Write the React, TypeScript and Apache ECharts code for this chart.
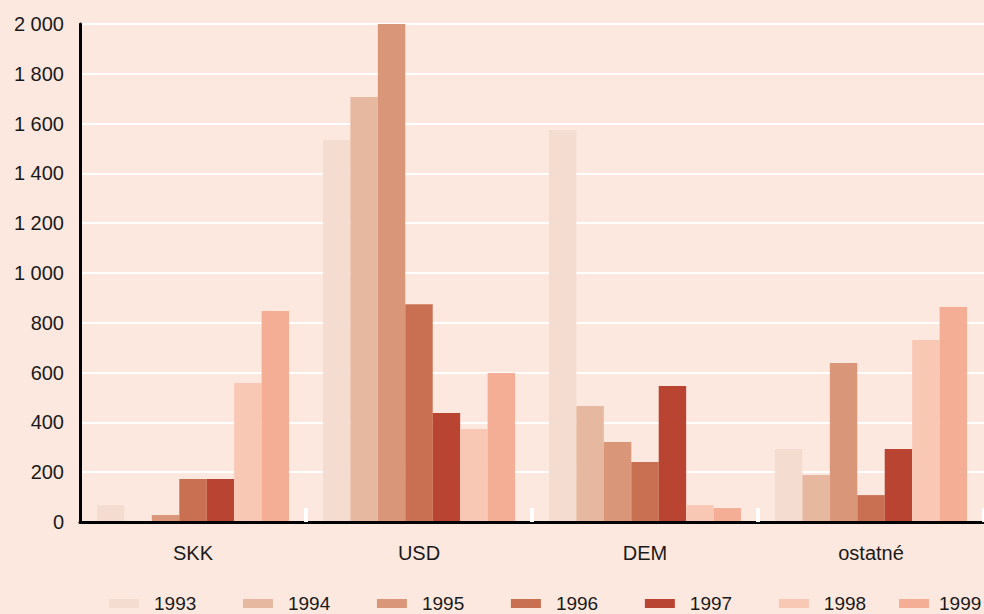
import React, { useEffect, useRef } from "react";
import * as echarts from "echarts";

const categories = ["SKK", "USD", "DEM", "ostatné"];
const years = ["1993", "1994", "1995", "1996", "1997", "1998", "1999"];
const v1993 = [68, 1534, 1574, 293];
const v1994 = [0, 1707, 466, 189];
const v1995 = [28, 2000, 321, 639];
const v1996 = [173, 875, 241, 108];
const v1997 = [173, 438, 546, 293];
const v1998 = [558, 373, 68, 731];
const v1999 = [847, 598, 56, 863];
const seriesValues = [v1993, v1994, v1995, v1996, v1997, v1998, v1999];
const colors = ["#f4dcd0", "#e6b8a0", "#d99679", "#c97052", "#b94432", "#f8c8b5", "#f4ae96"];
const yTicks = [0, 200, 400, 600, 800, 1000, 1200, 1400, 1600, 1800, 2000];

const FONT = "'Liberation Sans', Arial, Helvetica, sans-serif";

function fmt(v: number): string {
  if (v >= 1000) {
    return Math.floor(v / 1000) + " " + String(v % 1000).padStart(3, "0");
  }
  return String(v);
}

export default function App() {
  const ref = useRef<HTMLDivElement>(null);
  useEffect(() => {
    if (!ref.current) return;
    const chart = echarts.init(ref.current, undefined, { renderer: "svg" });
    chart.setOption({
      animation: false,
      backgroundColor: "#fde8df",
      color: colors,
      grid: { left: 80, right: -7, top: 24, bottom: 92, containLabel: false },
      legend: [
        {
          data: years.slice(0, 6),
          left: 109,
          top: 594,
          padding: 0,
          itemWidth: 30,
          itemHeight: 9,
          itemGap: 46.7,
          icon: "rect",
          textStyle: { fontFamily: FONT, fontSize: 19, color: "#1a1a1a", padding: [0, 0, 0, 10] },
        },
        {
          data: [years[6]],
          left: 899,
          top: 594,
          padding: 0,
          itemWidth: 30,
          itemHeight: 9,
          icon: "rect",
          textStyle: { fontFamily: FONT, fontSize: 19, color: "#1a1a1a", padding: [0, 0, 0, 5] },
        },
      ],
      xAxis: {
        type: "category",
        data: categories,
        z: 3,
        axisLine: { show: true, lineStyle: { color: "#000", width: 3 } },
        axisTick: {
          show: true,
          inside: true,
          length: 14,
          interval: (index: number) => index !== 0,
          lineStyle: { color: "#ffffff", width: 4 },
        },
        axisLabel: { fontFamily: FONT, fontSize: 20, color: "#1a1a1a", margin: 21 },
        splitLine: { show: false },
      },
      yAxis: {
        type: "value",
        min: 0,
        max: 2000,
        interval: 200,
        axisLine: { show: true, lineStyle: { color: "#000", width: 3 } },
        axisTick: { show: false },
        axisLabel: {
          fontFamily: FONT,
          fontSize: 20,
          color: "#1a1a1a",
          margin: 16,
          padding: [0, 0, 4, 0],
          formatter: (v: number) => (yTicks.includes(v) ? fmt(v) : ""),
        },
        splitLine: { show: true, lineStyle: { color: "#ffffff", width: 2 } },
      },
      series: years.map((y, i) => ({
        name: y,
        type: "bar",
        data: seriesValues[i],
        barGap: "0%",
        barCategoryGap: "15%",
        itemStyle: { color: colors[i] },
      })),
    });
    return () => chart.dispose();
  }, []);
  return (
    <div
      ref={ref}
      style={{ position: "fixed", left: 0, top: 0, width: 984, height: 614 }}
    />
  );
}
